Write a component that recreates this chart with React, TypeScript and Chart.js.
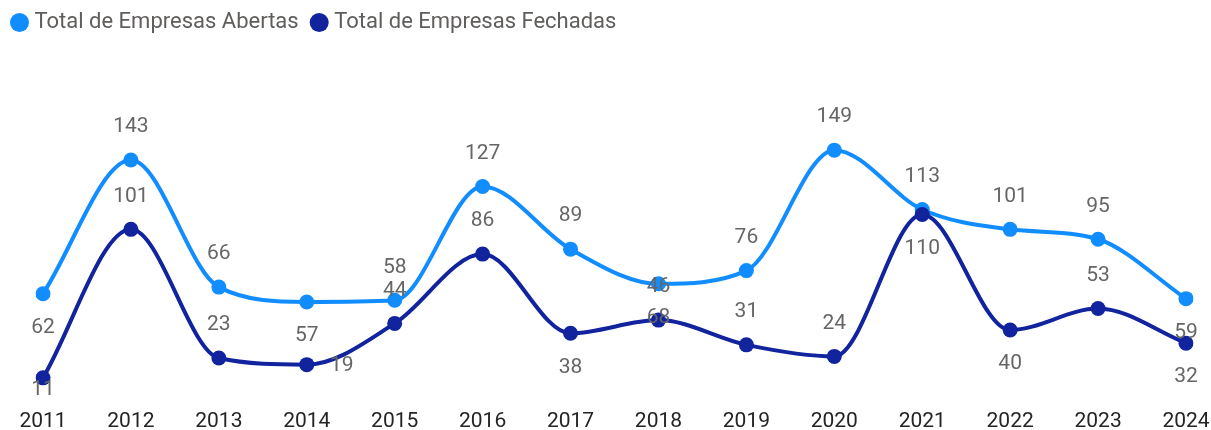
import { useEffect, useRef } from "react";
import { Chart, registerables } from "chart.js";

Chart.register(...registerables);

const years = ["2011", "2012", "2013", "2014", "2015", "2016", "2017", "2018", "2019", "2020", "2021", "2022", "2023", "2024"];
const abertas = [62, 143, 66, 57, 58, 127, 89, 68, 76, 149, 113, 101, 95, 59];
const fechadas = [11, 101, 23, 19, 44, 86, 38, 46, 31, 24, 110, 40, 53, 32];
const seriesNames = ["Total de Empresas Abertas", "Total de Empresas Fechadas"];
const seriesColors = ["#118DFF", "#12239E"];
// label placement relative to each point (style only)
const abertasLabelPos = ["below", "above", "above", "below", "above", "above", "above", "below", "above", "above", "above", "above", "above", "below"];
const fechadasLabelPos = ["below", "above", "above", "right", "above", "above", "below", "above", "above", "above", "below", "below", "above", "below"];

const FONT = "Roboto, 'Noto Sans', sans-serif";
const W = 1211;
const H = 430;

const labelPlugin = {
  id: "pointLabels",
  afterDatasetsDraw(chart: any) {
    const ctx = chart.ctx;
    const positions = [abertasLabelPos, fechadasLabelPos];
    ctx.save();
    ctx.font = `21px ${FONT}`;
    ctx.fillStyle = "#666666";
    ctx.textAlign = "center";
    ctx.textBaseline = "middle";
    chart.data.datasets.forEach((ds: any, di: number) => {
      const meta = chart.getDatasetMeta(di);
      meta.data.forEach((pt: any, i: number) => {
        const pos = positions[di][i];
        let x = pt.x;
        let y = pt.y;
        if (pos === "above") y -= 33;
        else if (pos === "below") y += 34;
        else if (pos === "right") { x += 35; y += 1; }
        if (y > 390) y = 390;
        ctx.fillText(String(ds.data[i]), x, y);
      });
    });
    ctx.restore();
  },
};

const legendPlugin = {
  id: "customLegend",
  afterDraw(chart: any) {
    const ctx = chart.ctx;
    ctx.save();
    ctx.font = `22px ${FONT}`;
    ctx.textBaseline = "middle";
    ctx.textAlign = "left";
    let cx = 19.5;
    const cy = 22.5;
    seriesNames.forEach((name, i) => {
      ctx.fillStyle = seriesColors[i];
      ctx.beginPath();
      ctx.arc(cx, cy, 9.5, 0, Math.PI * 2);
      ctx.fill();
      const tx = cx + 15;
      ctx.fillStyle = "#605E5C";
      ctx.fillText(name, tx, cy);
      const w = ctx.measureText(name).width;
      cx = tx + w + 20.5;
    });
    ctx.restore();
  },
};

export default function App() {
  const ref = useRef<HTMLCanvasElement | null>(null);
  useEffect(() => {
    if (!ref.current) return;
    const chart = new Chart(ref.current, {
      type: "line",
      data: {
        labels: years,
        datasets: [
          {
            label: seriesNames[0],
            data: abertas,
            borderColor: seriesColors[0],
            backgroundColor: seriesColors[0],
            borderWidth: 4,
            pointRadius: 7.5,
            pointBorderWidth: 0,
            pointBackgroundColor: seriesColors[0],
            cubicInterpolationMode: "monotone",
            order: 1,
          },
          {
            label: seriesNames[1],
            data: fechadas,
            borderColor: seriesColors[1],
            backgroundColor: seriesColors[1],
            borderWidth: 4,
            pointRadius: 7.5,
            pointBorderWidth: 0,
            pointBackgroundColor: seriesColors[1],
            cubicInterpolationMode: "monotone",
            order: 0,
          },
        ],
      },
      options: {
        animation: false,
        responsive: false,
        maintainAspectRatio: false,
        devicePixelRatio: 1,
        layout: { padding: { left: 43, right: 25, top: 132, bottom: 0 } },
        plugins: {
          legend: { display: false },
          tooltip: { enabled: false },
        },
        scales: {
          x: {
            offset: false,
            grid: { display: false, drawTicks: false },
            border: { display: false },
            ticks: {
              color: "#252423",
              font: { family: FONT, size: 21 },
              padding: 13,
              maxRotation: 0,
              autoSkip: false,
            },
            afterFit: (axis: any) => {
              axis.height = 34;
              axis.paddingLeft = 0;
              axis.paddingRight = 0;
            },
          },
          y: {
            display: false,
            min: 0,
            max: 160,
          },
        },
      },
      plugins: [labelPlugin, legendPlugin],
    });
    return () => chart.destroy();
  }, []);
  return (
    <div style={{ position: "fixed", left: 0, top: 0, width: W, height: H, background: "#ffffff" }}>
      <canvas ref={ref} width={W} height={H} style={{ display: "block", width: W, height: H }} />
    </div>
  );
}
